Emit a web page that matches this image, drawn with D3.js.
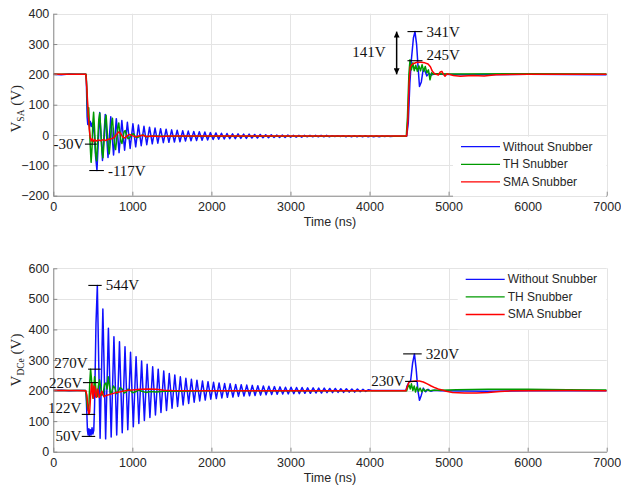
<!DOCTYPE html>
<html>
<head>
<meta charset="utf-8">
<script src="https://cdn.jsdelivr.net/npm/d3@7"></script>
<style>
  html, body { margin: 0; padding: 0; background: #fff; }
  svg { display: block; }
</style>
</head>
<body>
<svg id="chart" width="621" height="485"></svg>
<script>
// ---- Axis ticks ----
const timeTicks = [0, 1000, 2000, 3000, 4000, 5000, 6000, 7000];
const vsaTicks = [-200, -100, 0, 100, 200, 300, 400];
const vdceTicks = [0, 100, 200, 300, 400, 500, 600];

const seriesNames = ["Without Snubber", "TH Snubber", "SMA Snubber"];

// ---- V_SA waveforms: [time (ns), voltage (V)] ----
const vsaWithout = [
  [0,200],[100,199],[200,201],[300,200],[410,200],[418,180],[428,60],[436,35],[446,42],[456,30],[468,45],[480,28],[492,40],[505,25],[520,0],[535,-70],[552,-117],
  [587,74],[622,-84],[657,68],[692,-74],[727,60],[762,-66],[797,54],[832,-58],[867,48],[902,-50],[937,42],[972,-44],
  [1007,37],[1042,-39],[1077,33],[1112,-35],[1147,29],[1182,-32],[1217,26],[1252,-29],[1287,23],[1322,-27],[1357,21],[1392,-25],
  [1427,19],[1462,-24],[1497,17],[1532,-23],[1567,16],[1602,-22],[1637,14],[1672,-20],[1707,13],[1742,-19],[1777,12],[1812,-18],
  [1847,11],[1882,-17],[1917,10],[1952,-16],[1987,8],[2022,-15],[2057,7],[2092,-14],[2127,6],[2162,-13],[2197,5],[2232,-12],
  [2267,4],[2302,-12],[2337,4],[2372,-11],[2407,3],[2442,-11],[2477,3],[2512,-10],[2547,2],[2582,-10],[2617,2],[2652,-9],
  [2687,1],[2722,-9],[2757,1],[2792,-8],[2827,0],[2862,-8],[2897,0],[2932,-8],[2967,0],[3002,-7],[3037,-1],[3072,-7],
  [3107,-1],[3142,-7],[3177,-1],[3212,-6],[3247,-1],[3282,-6],[3317,-1],[3352,-6],[3387,-1],[3422,-6],[3457,-1],[3492,-6],
  [3527,-2],[3562,-5],[3597,-2],[3632,-5],[3667,-2],[3702,-6],[3737,-2],[3772,-6],[3807,-2],[3842,-6],[3877,-2],[3912,-6],
  [3947,-2],[3982,-6],[4017,-3],[4052,-6],[4087,-3],[4122,-6],[4157,-3],[4192,-5],[4227,-3],[4262,-5],[4300,-4],[4470,-4],
  [4490,40],[4510,170],[4530,250],[4555,320],[4575,341],[4595,300],[4615,220],[4632,160],[4655,175],[4678,215],[4700,212],
  [4725,195],[4750,203],[4780,198],[4820,201],[4900,200],[5200,199],[6000,200],[7000,199]
];
const vsaTH = [
  [0,200],[300,200],[415,200],[425,150],[432,95],[440,60],[448,90],[458,20],[468,-40],[478,-90],[490,-40],[500,40],[510,75],
  [522,20],[535,-60],[548,-85],[560,-30],[575,50],[588,72],[600,20],[615,-50],[628,-75],[640,-30],[655,45],[668,65],[680,20],
  [695,-40],[708,-62],[720,-25],[735,35],[748,55],[760,15],[775,-30],[788,-48],[800,-20],[815,25],[828,40],[840,10],[855,-20],
  [868,-28],[880,-10],[895,10],[910,15],[925,0],[945,-12],[965,-10],[990,2],[1015,4],[1040,-6],[1070,-8],[1100,-2],[1140,0],
  [1180,-6],[1250,-3],[1400,-4],[2000,-4],[3000,-4],[4000,-4],[4465,-4],
  [4480,60],[4498,200],[4512,248],[4530,215],[4548,238],[4565,212],[4585,230],[4605,210],[4625,228],[4645,212],[4665,232],
  [4685,210],[4705,226],[4725,205],[4745,215],[4765,182],[4785,205],[4810,200],[4850,202],[5000,201],[6000,202],[7000,201]
];
const vsaSMA = [
  [0,200],[300,200],[412,200],[425,150],[440,80],[455,20],[468,-10],[480,-20],[495,-12],[510,-22],[525,-15],[545,-20],[570,-16],
  [600,-19],[630,-15],[660,-18],[700,-14],[740,-12],[770,-8],[800,2],[825,10],[850,6],[875,-5],[905,-10],[935,-2],[965,2],
  [1000,-2],[1040,-6],[1080,-3],[1130,-1],[1180,-5],[1250,-3],[1350,-5],[1500,-3],[2000,-3],[3000,-3],[4000,-3],[4470,-3],
  [4485,50],[4500,170],[4515,225],[4535,232],[4560,236],[4600,240],[4650,240],[4700,238],[4740,234],[4770,225],[4795,210],
  [4820,203],[4845,200],[4870,198],[4895,208],[4915,210],[4935,200],[4955,194],[4980,202],[5010,200],[5060,196],[5150,194],
  [5300,196],[5450,195],[5600,199],[6000,200],[7000,200]
];

// ---- V_DCe waveforms: [time (ns), voltage (V)] ----
const vdceWithout = [
  [0,200],[100,201],[200,199],[300,200],[405,200],[415,190],[425,120],[432,70],[440,55],[450,75],[458,52],[468,72],[478,55],
  [490,78],[500,58],[512,70],[522,150],[540,420],[557,544],
  [592,44],[627,467],[662,42],[697,404],[732,48],[767,376],[802,55],[837,360],[872,62],[907,343],[942,72],[977,325],
  [1012,82],[1047,311],[1082,92],[1117,297],[1152,102],[1187,286],[1222,112],[1257,278],[1292,120],[1327,270],[1362,128],[1397,264],
  [1432,135],[1467,256],[1502,142],[1537,251],[1572,148],[1607,245],[1642,153],[1677,240],[1712,158],[1747,237],[1782,162],[1817,234],
  [1852,166],[1887,231],[1922,169],[1957,229],[1992,172],[2027,227],[2062,174],[2097,225],[2132,176],[2167,223],[2202,178],[2237,222],
  [2272,179],[2307,220],[2342,181],[2377,219],[2412,182],[2447,218],[2482,183],[2517,217],[2552,184],[2587,216],[2622,185],[2657,215],
  [2692,186],[2727,214],[2762,187],[2797,213],[2832,188],[2867,212],[2902,189],[2937,211],[2972,189],[3007,211],[3042,190],[3077,210],
  [3112,190],[3147,210],[3182,191],[3217,209],[3252,191],[3287,209],[3322,192],[3357,208],[3392,192],[3427,208],[3462,193],[3497,207],
  [3532,193],[3567,207],[3602,194],[3637,206],[3672,194],[3707,206],[3742,195],[3777,205],[3812,195],[3847,205],[3882,196],[3917,204],
  [3952,197],[3987,203],[4030,200],[4460,200],
  [4475,215],[4500,228],[4520,232],[4545,290],[4568,320],[4590,270],[4612,200],[4632,168],[4655,185],[4680,208],[4710,196],
  [4740,204],[4775,198],[4820,201],[4900,199],[5500,198],[6000,199],[7000,199]
];
const vdceTH = [
  [0,200],[300,200],[410,200],[418,180],[428,150],[440,135],[452,160],[462,230],[472,270],[482,240],[492,195],[502,175],[512,205],
  [522,245],[532,225],[545,185],[558,180],[570,215],[585,235],[600,210],[615,185],[630,190],[648,220],[665,225],[680,205],[695,245],
  [710,215],[725,190],[740,195],[760,215],[780,208],[800,190],[820,195],[845,210],[870,205],[895,192],[920,195],[945,205],[975,200],
  [1005,193],[1040,196],[1080,202],[1120,198],[1170,194],[1230,197],[1300,195],[1400,198],[1600,198],[2000,199],[3000,199],[4000,199],
  [4470,199],[4485,212],[4500,218],[4515,205],[4530,222],[4548,200],[4565,215],[4582,195],[4600,212],[4620,198],[4640,208],
  [4660,196],[4680,205],[4700,198],[4730,203],[4760,199],[4800,201],[4900,201],[5100,203],[5500,204],[6000,204],[6500,203],[7000,202]
];
const vdceSMA = [
  [0,200],[300,200],[410,199],[425,185],[440,140],[450,122],[460,130],[470,175],[480,215],[488,226],[496,190],[505,175],[514,215],
  [524,212],[534,180],[545,178],[556,205],[568,200],[580,178],[595,185],[615,198],[640,180],[670,184],[700,186],[750,190],[800,194],
  [850,196],[900,199],[950,201],[1000,202],[1100,204],[1200,205],[1300,204],[1400,201],[1500,200],[2000,199],[3000,199],[4000,199],
  [4460,199],[4480,215],[4500,228],[4530,230],[4580,231],[4630,231],[4680,228],[4730,222],[4780,215],[4830,209],[4880,204],
  [4930,201],[4970,198],[5050,194],[5200,192],[5350,192],[5500,194],[5650,197],[5800,199],[6500,200],[7000,199]
];

// ---- Peak markers: value, label, time span of the marker bar, label side ----
const vsaMarks = [
  { v: -30,  label: "-30V",  t0: 400,  t1: 550,  side: "left",  pos: "mid" },
  { v: -117, label: "-117V", t0: 455,  t1: 640,  side: "right", pos: "mid" },
  { v: 341,  label: "341V",  t0: 4480, t1: 4670, side: "right", pos: "mid" },
  { v: 245,  label: "245V",  t0: 4480, t1: 4670, side: "right", pos: "above" }
];
const vdceMarks = [
  { v: 544, label: "544V", t0: 443,  t1: 612,  side: "right", pos: "mid" },
  { v: 270, label: "270V", t0: 440,  t1: 600,  side: "left",  pos: "above" },
  { v: 226, label: "226V", t0: 375,  t1: 565,  side: "left",  pos: "mid" },
  { v: 122, label: "122V", t0: 360,  t1: 530,  side: "left",  pos: "above" },
  { v: 50,  label: "50V",  t0: 360,  t1: 530,  side: "left",  pos: "mid" },
  { v: 320, label: "320V", t0: 4425, t1: 4660, side: "right", pos: "mid" },
  { v: 230, label: "230V", t0: 4450, t1: 4600, side: "left",  pos: "mid" }
];
// overshoot span shown with a double arrow
const vsaSpan = { from: 200, to: 341, t: 4343, label: "141V" };

// ---- Drawing ----
const colors = ["#1010ff", "#009a00", "#ff0000"];
const svg = d3.select("#chart");
const left = 53.3, right = 606.7;
const x = d3.scaleLinear().domain([0, 7000]).range([left, right]);

const tickFont = "'Liberation Sans', Arial, sans-serif";
const serifFont = "'Liberation Serif', 'Times New Roman', serif";

svg.append("defs").append("marker")
  .attr("id", "arrowHead")
  .attr("viewBox", "0 0 10 10")
  .attr("refX", 10).attr("refY", 5)
  .attr("markerWidth", 6).attr("markerHeight", 6)
  .attr("orient", "auto-start-reverse")
  .attr("markerUnits", "userSpaceOnUse")
  .append("path").attr("d", "M0,0 L10,5 L0,10 Z").attr("fill", "#000");

function drawPanel(cfg) {
  const y = d3.scaleLinear().domain(cfg.domain).range([cfg.bottom, cfg.top]);
  const g = svg.append("g");
  const clipId = "clip-" + cfg.id;
  g.append("clipPath").attr("id", clipId).append("rect")
    .attr("x", left).attr("y", cfg.top)
    .attr("width", right - left).attr("height", cfg.bottom - cfg.top);

  // grid
  const grid = g.append("g").attr("stroke", "#e4e4e4").attr("stroke-width", 1);
  grid.selectAll("line.v").data(timeTicks).join("line")
    .attr("x1", d => Math.round(x(d)) + 0.5).attr("x2", d => Math.round(x(d)) + 0.5)
    .attr("y1", cfg.top).attr("y2", cfg.bottom);
  grid.selectAll("line.h").data(cfg.ticks).join("line")
    .attr("x1", left).attr("x2", right)
    .attr("y1", d => Math.round(y(d)) + 0.5).attr("y2", d => Math.round(y(d)) + 0.5);

  // traces
  const line = d3.line().x(d => x(d[0])).y(d => y(d[1]));
  const traces = g.append("g").attr("clip-path", `url(#${clipId})`);
  cfg.series.forEach((s, i) => {
    traces.append("path").datum(s)
      .attr("fill", "none").attr("stroke", colors[i])
      .attr("stroke-width", 1.5).attr("stroke-linejoin", "round")
      .attr("d", line);
  });

  // axes
  const xAxis = g.append("g").attr("transform", `translate(0,${cfg.bottom})`)
    .call(d3.axisBottom(x).tickValues(timeTicks).tickFormat(d3.format("d"))
      .tickSizeInner(-4).tickSizeOuter(0).tickPadding(6));
  const yAxis = g.append("g").attr("transform", `translate(${left},0)`)
    .call(d3.axisLeft(y).tickValues(cfg.ticks).tickFormat(d3.format("d"))
      .tickSizeInner(-4).tickSizeOuter(0).tickPadding(4));
  [xAxis, yAxis].forEach(a => {
    a.select(".domain").attr("stroke", "#8a8a8a");
    a.selectAll(".tick line").attr("stroke", "#8a8a8a");
    a.selectAll(".tick text").attr("fill", "#262626")
      .style("font-family", tickFont).style("font-size", "12.5px");
  });

  g.append("text")
    .attr("x", (left + right) / 2).attr("y", cfg.bottom + 26)
    .attr("text-anchor", "middle").attr("dominant-baseline", "central")
    .attr("fill", "#262626")
    .style("font-family", tickFont).style("font-size", "12.5px")
    .text("Time (ns)");

  // y label with subscript
  const cy = (cfg.top + cfg.bottom) / 2 + cfg.labelShift;
  const yl = g.append("text")
    .attr("transform", `translate(21,${cy}) rotate(-90)`)
    .attr("text-anchor", "middle")
    .attr("fill", "#262626")
    .style("font-family", serifFont).style("font-size", "15px");
  yl.append("tspan").text("V");
  yl.append("tspan").attr("dy", 3).style("font-size", "9.5px").text(cfg.sub);
  yl.append("tspan").attr("dy", -3).text(" (V)");

  // peak markers
  const mk = g.append("g");
  cfg.marks.forEach(m => {
    const yy = y(m.v);
    mk.append("line")
      .attr("x1", x(m.t0)).attr("x2", x(m.t1))
      .attr("y1", yy).attr("y2", yy)
      .attr("stroke", "#000").attr("stroke-width", 1.1);
    const tx = m.side === "left" ? x(m.t0) - 0.5 : x(m.t1) + 4;
    mk.append("text")
      .attr("x", tx).attr("y", m.pos === "above" ? yy - 1 : yy)
      .attr("text-anchor", m.side === "left" ? "end" : "start")
      .attr("dominant-baseline", m.pos === "above" ? "alphabetic" : "central")
      .attr("fill", "#111")
      .style("font-family", serifFont).style("font-size", "15px")
      .text(m.label);
  });

  if (cfg.span) {
    const s = cfg.span;
    mk.append("line")
      .attr("x1", x(s.t)).attr("x2", x(s.t))
      .attr("y1", y(s.to)).attr("y2", y(s.from))
      .attr("stroke", "#000").attr("stroke-width", 1.5)
      .attr("marker-start", "url(#arrowHead)")
      .attr("marker-end", "url(#arrowHead)");
    mk.append("text")
      .attr("x", x(s.t) - 11).attr("y", y((s.from + s.to) / 2) - 1)
      .attr("text-anchor", "end").attr("dominant-baseline", "central")
      .attr("fill", "#111")
      .style("font-family", serifFont).style("font-size", "15px")
      .text(s.label);
  }

  // legend
  const lg = g.append("g").attr("transform", `translate(${cfg.legend[0]},${cfg.legend[1]})`);
  lg.append("rect").attr("x", -8).attr("y", -10)
    .attr("width", right - cfg.legend[0] + 7.5).attr("height", 60)
    .attr("fill", "#fff");
  seriesNames.forEach((name, i) => {
    const ry = i * 17.6;
    lg.append("line").attr("x1", 0).attr("x2", 39).attr("y1", ry).attr("y2", ry)
      .attr("stroke", colors[i]).attr("stroke-width", 1.3);
    lg.append("text").attr("x", 42).attr("y", ry)
      .attr("dominant-baseline", "central").attr("fill", "#262626")
      .style("font-family", tickFont).style("font-size", "12px")
      .text(name);
  });
}

drawPanel({
  id: "vsa", domain: [-200, 400], ticks: vsaTicks, top: 13.7, bottom: 195.7,
  series: [vsaWithout, vsaTH, vsaSMA], sub: "SA", labelShift: 4,
  marks: vsaMarks, span: vsaSpan, legend: [461, 146.7]
});
drawPanel({
  id: "vdce", domain: [0, 600], ticks: vdceTicks, top: 268.3, bottom: 451.7,
  series: [vdceWithout, vdceTH, vdceSMA], sub: "DCe", labelShift: 0,
  marks: vdceMarks, span: null, legend: [465.7, 279.3]
});
</script>
</body>
</html>
